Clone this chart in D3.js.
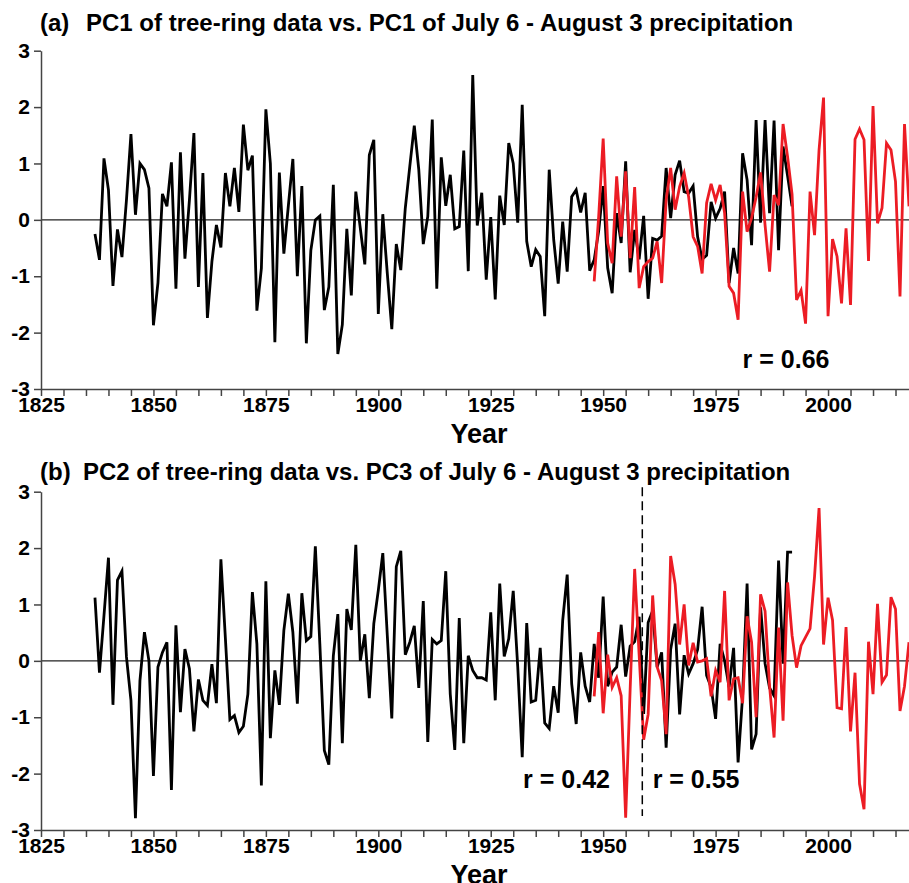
<!DOCTYPE html>
<html>
<head>
<meta charset="utf-8">
<script src="https://cdn.jsdelivr.net/npm/d3@7"></script>
<style>
  body { margin: 0; background: #fff; }
  svg text { font-family: "Liberation Sans", Arial, Helvetica, sans-serif; font-weight: bold; }
</style>
</head>
<body>
<div id="chart"></div>
<script>
// first year of each series
var treeStart = 1837,
    precipStart = 1948;

// (a) PC1 of tree-ring data, 1837-1992
var treeA = [
  -0.25, -0.71, 1.09, 0.53, -1.17, -0.17, -0.66, 0.35, 1.52, 0.09,
  1.0, 0.89, 0.56, -1.87, -1.12, 0.46, 0.24, 1.02, -1.22, 1.2,
  -0.69, 0.35, 1.54, -1.19, 0.83, -1.74, -0.74, -0.09, -0.49, 0.83,
  0.24, 0.92, 0.14, 1.69, 0.88, 1.14, -1.61, -0.86, 1.96, 1.0,
  -2.17, 0.84, -0.6, 0.25, 1.08, -1.0, 0.6, -2.19, -0.54, 0.0,
  0.07, -1.6, -1.19, 0.62, -2.38, -1.86, -0.16, -1.34, 0.5, -0.15,
  -0.79, 1.15, 1.42, -1.67, 0.1, -0.95, -1.94, -0.43, -0.89, 0.21,
  0.95, 1.67, 0.89, -0.43, 0.06, 1.78, -1.22, 1.11, 0.25, 0.8,
  -0.16, -0.12, 1.23, -0.91, 2.57, -0.1, 0.48, -1.06, 0.05, -1.41,
  0.43, -0.09, 1.36, 1.0, -0.05, 2.04, -0.38, -0.83, -0.53, -0.65,
  -1.71, 0.89, -0.35, -1.13, -0.03, -0.92, 0.41, 0.53, 0.13, 0.48,
  -0.9, -0.71, -0.2, 0.6, -0.85, -1.3, 0.12, -0.41, 1.04, -0.93,
  -0.18, -0.7, 0.07, -1.4, -0.33, -0.36, -0.29, 0.92, 0.03, 0.8,
  1.05, 0.5, 0.47, 0.6, -0.3, -0.7, -0.63, 0.32, 0.03, 0.2,
  0.5, -1.12, -0.5, -0.95, 1.18, 0.71, -0.45, 1.77, -0.05, 1.77,
  0.12, 1.76, -0.54, 1.3, 0.78, 0.24
];

// (a) PC1 of July 6 - August 3 precipitation, 1948-2018
var precipA = [
  -1.09, 0.06, 1.44, -0.41, -0.77, 0.77, -0.3, 0.86, -0.68, 0.58,
  -1.21, -0.83, -0.74, -0.68, -0.38, -1.12, 0.35, 0.92, 0.18, 0.59,
  0.83, 0.41, -0.3, -0.47, -0.95, 0.3, 0.64, 0.35, 0.62, 0.12,
  -1.18, -1.3, -1.77, 0.5, -0.21, 0.03, 0.4, 0.84, -0.1, -0.92,
  0.44, 0.26, 1.7, 1.12, 0.45, -1.42, -1.25, -1.84, 0.5, -0.27,
  1.24, 2.17, -1.71, -0.34, -0.65, -1.48, -0.15, -1.51, 1.43, 1.61,
  1.42, -0.73, 2.02, -0.06, 0.21, 1.36, 1.24, 0.68, -1.36, 1.7,
  0.24
];

// (b) PC2 of tree-ring data, 1837-1992
var treeB = [
  1.12, -0.21, 0.8, 1.83, -0.78, 1.43, 1.59, 0.07, -0.7, -2.79,
  -0.35, 0.51, 0.0, -2.04, -0.11, 0.15, 0.33, -2.29, 0.63, -0.91,
  0.21, -0.14, -1.25, -0.33, -0.7, -0.79, -0.06, -0.75, 1.8, 0.4,
  -1.04, -0.97, -1.27, -1.16, -0.59, 1.22, 0.3, -2.21, 1.41, -1.37,
  -0.17, -0.78, 0.54, 1.19, 0.51, -0.76, 1.2, 0.36, 0.43, 2.03,
  0.3, -1.59, -1.84, 0.09, 0.83, -1.46, 0.92, 0.55, 2.06, 0.0,
  0.47, -0.66, 0.66, 1.25, 1.91, 0.45, -1.02, 1.67, 1.95, 0.11,
  0.33, 0.62, -0.48, 1.06, -1.44, 0.38, 0.3, 0.36, 1.59, -0.59,
  -1.58, 0.76, -1.46, 0.09, -0.17, -0.3, -0.3, -0.34, 0.86, -0.7,
  1.37, 0.08, 0.39, 1.24, -0.1, -1.71, 0.67, -0.73, -0.7, 0.23,
  -1.1, -1.2, -0.45, -0.92, 0.72, 1.53, -0.41, -1.12, 0.15, -0.45,
  -0.73, 0.3, -0.3, 1.14, -0.45, -0.2, -0.11, 0.64, -0.28, 0.26,
  0.34, 0.78, -0.94, 0.68, 0.89, -0.11, 0.15, -1.54, 0.2, 0.66,
  -0.95, 0.1, -0.23, -0.05, 0.2, 0.96, -0.26, -0.47, -1.03, 0.3,
  0.0, -0.47, 0.23, -1.8, -0.62, 1.37, -1.57, -1.3, 0.95, -0.05,
  -0.48, -0.62, 1.78, -0.05, 1.93, 1.93
];

// (b) PC3 of July 6 - August 3 precipitation, 1948-2018
var precipB = [
  -0.63, 0.51, -0.93, 0.11, -0.47, -0.3, -0.62, -2.78, -0.5, 1.63,
  0.1, -1.4, -0.95, 1.16, -0.11, -0.35, -1.3, 1.86, 1.36, 0.29,
  1.0, -0.08, 0.32, -0.02, 0.0, 0.04, -0.63, -0.17, -0.38, 1.24,
  -0.7, -0.32, -0.3, -0.75, 0.79, 0.33, -1.0, 1.18, 0.88, -0.45,
  -1.36, 0.59, -1.06, 1.39, 0.45, -0.12, 0.27, 0.42, 0.57, 1.5,
  2.71, 0.29, 1.12, 0.72, -0.83, -0.85, 0.6, -1.25, -0.21, -2.18,
  -2.63, 0.34, -0.59, 1.01, -0.38, -0.25, 1.13, 0.92, -0.89, -0.45,
  0.33
];

var xTicks = d3.range(1825, 2016, 5);
var xLabelEvery = 25;
var yTicks = [-3, -2, -1, 0, 1, 2, 3];
var splitYearB = 1958.7;

var panels = [
  { tag: "(a)", title: "PC1 of tree-ring data vs. PC1 of July 6 - August 3 precipitation",
    tree: treeA, precip: precipA, top: 50.7, titleY: 31,
    rLabels: [{text: "r = 0.66", year: 1981, val: -2.62}], split: null },
  { tag: "(b)", title: "PC2 of tree-ring data vs. PC3 of July 6 - August 3 precipitation",
    tree: treeB, precip: precipB, top: 491.7, titleY: 480,
    rLabels: [{text: "r = 0.42", year: 1932.2, val: -2.25},
              {text: "r = 0.55", year: 1961, val: -2.25}], split: splitYearB }
];

var W = 909, H = 883,
    left = 41, right = 909, plotH = 338.3;

var svg = d3.select("#chart")
  .append("svg")
    .attr("width", W)
    .attr("height", H);

var x = d3.scaleLinear()
  .domain([1825, 2018])
  .range([left, right]);

var red = "#ec1c24";

panels.forEach(function(p) {
  var y = d3.scaleLinear()
    .domain([-3, 3])
    .range([p.top + plotH, p.top]);

  var g = svg.append("g");

  // title
  g.append("text")
    .attr("x", 40)
    .attr("y", p.titleY)
    .style("font-size", "24px")
    .text(p.tag);
  g.append("text")
    .attr("x", p.tag == "(a)" ? 86 : 83)
    .attr("y", p.titleY)
    .style("font-size", "24px")
    .text(p.title);

  // zero line
  g.append("line")
    .attr("x1", left).attr("x2", right)
    .attr("y1", y(0)).attr("y2", y(0))
    .attr("stroke", "#222")
    .attr("stroke-width", 1.3);

  // axes
  var xAxis = g.append("g")
    .attr("transform", "translate(0," + y(-3) + ")")
    .call(d3.axisBottom(x)
      .tickValues(xTicks)
      .tickFormat(function(d) { return d % xLabelEvery === 0 ? d : ""; })
      .tickSize(7)
      .tickSizeOuter(0)
      .tickPadding(1));
  xAxis.selectAll("text").style("font-size", "21px").attr("fill", "#000");

  var yAxis = g.append("g")
    .attr("transform", "translate(" + left + ",0)")
    .call(d3.axisLeft(y)
      .tickValues(yTicks)
      .tickFormat(function(d) { return String(d); })
      .tickSize(7)
      .tickSizeOuter(0)
      .tickPadding(4));
  yAxis.selectAll("text").style("font-size", "21px").attr("fill", "#000");

  [xAxis, yAxis].forEach(function(a) {
    a.select(".domain").attr("stroke", "#444").attr("stroke-width", 1.5);
    a.selectAll(".tick line").attr("stroke", "#444").attr("stroke-width", 1.5);
  });

  // axis title
  g.append("text")
    .attr("x", 479)
    .attr("y", y(-3) + 54)
    .attr("text-anchor", "middle")
    .style("font-size", "27px")
    .text("Year");

  var line = d3.line()
    .x(function(d) { return x(d[0]); })
    .y(function(d) { return y(d[1]); });

  var treeData = p.tree.map(function(v, i) { return [treeStart + i, v]; });
  var precipData = p.precip.map(function(v, i) { return [precipStart + i, v]; });

  g.append("path")
    .datum(treeData)
    .attr("d", line)
    .attr("fill", "none")
    .attr("stroke", "#000")
    .attr("stroke-width", 2.8)
    .attr("stroke-linejoin", "miter");

  g.append("path")
    .datum(precipData)
    .attr("d", line)
    .attr("fill", "none")
    .attr("stroke", red)
    .attr("stroke-width", 2.8)
    .attr("stroke-linejoin", "miter");

  if (p.split) {
    g.append("line")
      .attr("x1", x(p.split)).attr("x2", x(p.split))
      .attr("y1", y(3.08)).attr("y2", y(-2.75))
      .attr("stroke", "#000")
      .attr("stroke-width", 1.5)
      .attr("stroke-dasharray", "9,5");
  }

  p.rLabels.forEach(function(r) {
    g.append("text")
      .attr("x", x(r.year))
      .attr("y", y(r.val))
      .style("font-size", "25px")
      .text(r.text);
  });
});
</script>
</body>
</html>
